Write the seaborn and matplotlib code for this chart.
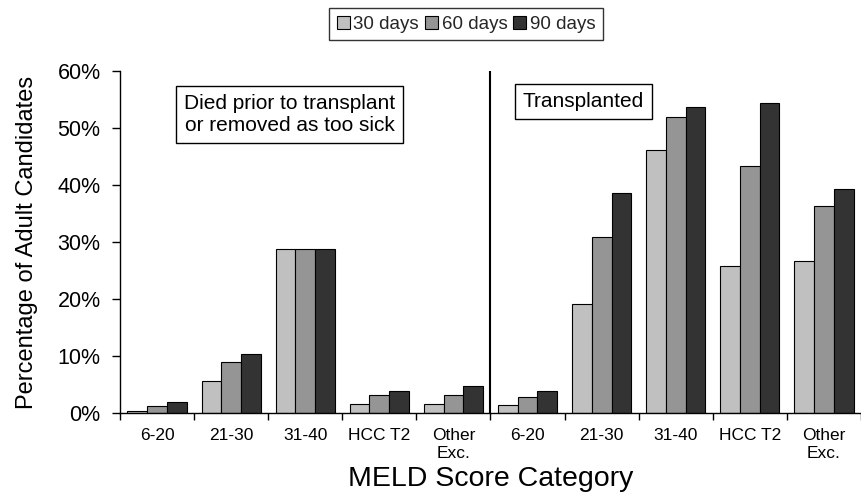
import matplotlib
matplotlib.use("Agg")
import matplotlib.pyplot as plt
import seaborn as sns
import pandas as pd
import numpy as np

categories = ["6-20", "21-30", "31-40", "HCC T2", "Other\nExc."]
groups = ["Died", "Transplanted"]
series = ["30 days", "60 days", "90 days"]

died_30 = [0.4, 5.7, 28.7, 1.6, 1.6]
died_60 = [1.3, 8.9, 28.7, 3.2, 3.2]
died_90 = [2.0, 10.4, 28.7, 3.9, 4.8]
tx_30 = [1.35, 19.1, 46.2, 25.8, 26.7]
tx_60 = [2.8, 30.9, 51.9, 43.4, 36.4]
tx_90 = [3.9, 38.6, 53.7, 54.3, 39.3]

yticks = [0, 10, 20, 30, 40, 50, 60]
ytick_labels = ["0%", "10%", "20%", "30%", "40%", "50%", "60%"]

colors = ["#c0c0c0", "#959595", "#333333"]

rows = []
for g, vals in [("Died", [died_30, died_60, died_90]), ("Transplanted", [tx_30, tx_60, tx_90])]:
    for s, v in zip(series, vals):
        for c, val in zip(categories, v):
            rows.append({"slot": f"{g}|{c}", "series": s, "value": val})
df = pd.DataFrame(rows)
order = [f"{g}|{c}" for g in groups for c in categories]

sns.set_theme(style="white")
plt.rcParams["font.family"] = ["Liberation Sans", "DejaVu Sans"]

fig = plt.figure(figsize=(8.62, 5.01), dpi=100)
ax = fig.add_axes([120/862, 1-413/501, 741/862, (413-71)/501])

sns.barplot(data=df, x="slot", y="value", hue="series", order=order,
            hue_order=series, palette=colors, edgecolor="black",
            linewidth=0.8, width=0.8, gap=0, ax=ax, legend=True)

ax.set_ylim(0, 60)
ax.set_xlim(-0.5, 9.5)
ax.set_yticks(yticks)
ax.set_yticklabels(ytick_labels, fontsize=15.5)
ax.set_xticks(range(10))
ax.set_xticklabels(categories * 2, fontsize=12.5)
ax.set_xticks(np.arange(-0.5, 10, 1), minor=True)
ax.tick_params(axis="x", which="major", length=0, pad=11)
ax.tick_params(axis="x", which="minor", length=5, width=1, direction="out", color="black", bottom=True)
ax.tick_params(axis="y", length=6, width=1, direction="out", color="black", left=True, pad=8)
for lab in ax.get_yticklabels() + ax.get_xticklabels():
    lab.set_color("black")

for side in ["top", "right"]:
    ax.spines[side].set_visible(False)
for side in ["left", "bottom"]:
    ax.spines[side].set_color("black")
    ax.spines[side].set_linewidth(1)

ax.axvline(4.5, ymin=0, ymax=1, color="black", linewidth=1.5)

ax.set_xlabel("MELD Score Category", fontsize=20.5, color="black", labelpad=4)
ax.set_ylabel("Percentage of Adult Candidates", fontsize=17, color="black", labelpad=14)

box = dict(boxstyle="square,pad=0.38", facecolor="white", edgecolor="black", linewidth=1)
ax.text(1.79, 52.3, "Died prior to transplant\nor removed as too sick", ha="center", va="center",
        fontsize=15, bbox=box, color="black", linespacing=1.2)
ax.text(5.75, 54.6, "Transplanted", ha="center", va="center", fontsize=15, bbox=box, color="black")

ax.legend_.remove()
handles = [plt.Rectangle((0, 0), 1, 1, facecolor=c, edgecolor="black", linewidth=0.8) for c in colors]
leg = fig.legend(handles, series, loc="upper center", bbox_to_anchor=(466/862, 1-8/501),
                 ncol=3, fontsize=13.5, frameon=True, fancybox=False, handlelength=0.7,
                 handleheight=0.7, handletextpad=0.2, columnspacing=0.3, borderpad=0.4,
                 borderaxespad=0)
leg.get_frame().set_edgecolor("black")
leg.get_frame().set_linewidth(1)

fig.savefig("out.png", dpi=100)
